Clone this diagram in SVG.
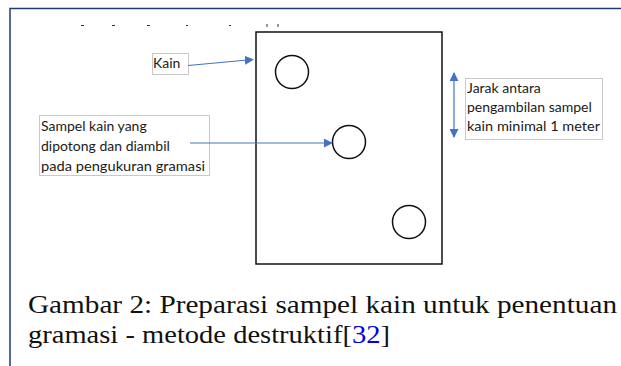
<svg xmlns="http://www.w3.org/2000/svg" width="621" height="366" viewBox="0 0 621 366">
<style>
.lbl{font-family:Lato,"Open Sans","Liberation Sans",sans-serif;font-size:14px;fill:#1a1a1a}
.box{fill:#fff;stroke:#c9c9c9;stroke-width:1}
.conn{stroke:#4472c4;stroke-width:1.2;fill:none}
.cap{font-family:"Liberation Serif","DejaVu Serif",serif;font-size:25px;fill:#111}
.circ{fill:none;stroke:#111;stroke-width:1.5}
</style>
<defs>
<marker id="ah" viewBox="0 0 10 10" refX="9" refY="5" markerWidth="9" markerHeight="9" markerUnits="userSpaceOnUse" orient="auto-start-reverse">
<path d="M0,0 L10,5 L0,10 z" fill="#4472c4"/>
</marker>
</defs>
<rect width="621" height="366" fill="#fff"/>
<g id="frame">
<path d="M10,366 V8.5 H621" fill="none" stroke="#1f3e6b" stroke-width="1.5"/>
</g>
<g id="fragments" stroke="#333" stroke-width="1">
<line x1="81" y1="25.5" x2="84" y2="25.5"/>
<line x1="112" y1="25.5" x2="115" y2="25.5"/>
<line x1="147" y1="25.5" x2="150" y2="25.5"/>
<line x1="186" y1="25.5" x2="188" y2="25.5"/>
<line x1="229" y1="25.5" x2="231" y2="25.5"/>
<line x1="267" y1="24" x2="267" y2="27"/>
<line x1="278" y1="24" x2="278" y2="27"/>
</g>
<g id="fabric">
<rect x="256" y="32" width="186" height="232" fill="none" stroke="#111" stroke-width="1.5"/>
</g>
<g id="sample1"><circle class="circ" cx="292" cy="72" r="16.5"/></g>
<g id="sample2"><circle class="circ" cx="349" cy="142" r="16.5"/></g>
<g id="sample3"><circle class="circ" cx="409" cy="222" r="16.5"/></g>
<g id="label-kain">
<rect class="box" x="152.5" y="53.5" width="36" height="21"/>
<text class="lbl" x="153" y="68">Kain</text>
</g>
<g id="label-sampel">
<rect class="box" x="39.5" y="115.5" width="170" height="60"/>
<text class="lbl" x="41" y="131">Sampel kain yang</text>
<text class="lbl" x="41" y="151">dipotong dan diambil</text>
<text class="lbl" x="41" y="171" textLength="164" lengthAdjust="spacingAndGlyphs">pada pengukuran gramasi</text>
</g>
<g id="label-jarak">
<rect class="box" x="465.5" y="78.5" width="137" height="61"/>
<text class="lbl" x="467" y="93">Jarak antara</text>
<text class="lbl" x="467" y="112">pengambilan sampel</text>
<text class="lbl" x="467" y="131" textLength="133" lengthAdjust="spacingAndGlyphs">kain minimal 1 meter</text>
</g>
<g id="connectors">
<line class="conn" x1="188" y1="65.5" x2="253" y2="59.5" marker-end="url(#ah)"/>
<line class="conn" x1="190" y1="143" x2="332" y2="143" marker-end="url(#ah)"/>
<line class="conn" x1="454" y1="73" x2="454" y2="137" marker-start="url(#ah)" marker-end="url(#ah)"/>
</g>
<g id="caption">
<text class="cap" x="28" y="313" textLength="589" lengthAdjust="spacingAndGlyphs">Gambar 2: Preparasi sampel kain untuk penentuan</text>
<text class="cap" x="28" y="343" textLength="362" lengthAdjust="spacingAndGlyphs">gramasi - metode destruktif[<tspan fill="#0000ee">32</tspan>]</text>
</g>
</svg>
